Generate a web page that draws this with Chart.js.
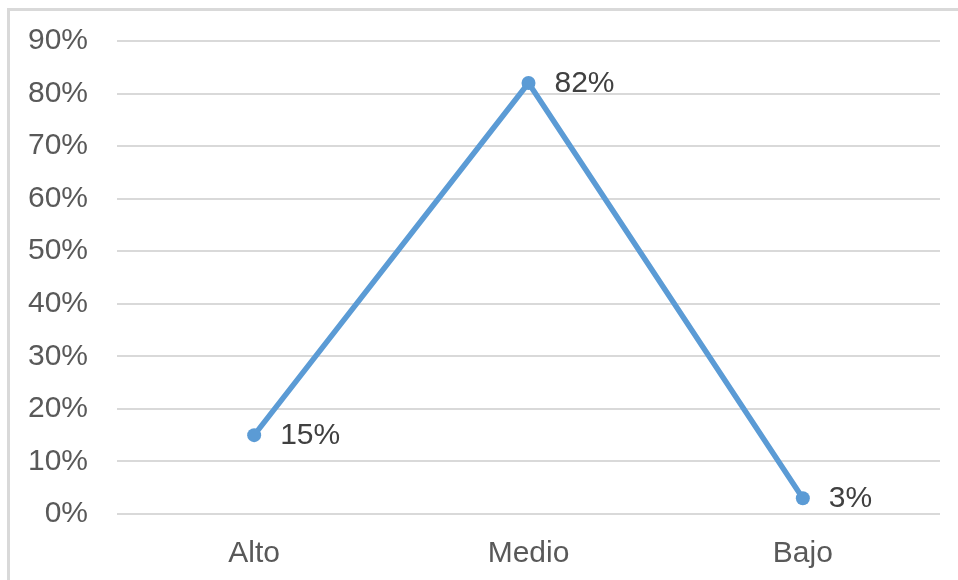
<!DOCTYPE html>
<html>
<head>
<meta charset="utf-8">
<script src="https://cdn.jsdelivr.net/npm/chart.js@4/dist/chart.umd.min.js"></script>
<style>
    html, body { margin: 0; padding: 0; background: #fff; overflow: hidden; }
    #frame {
        position: absolute; left: 7px; top: 8px;
        width: 1200px; height: 900px;
        border-left: 3px solid #d9d9d9; border-top: 3px solid #d9d9d9;
    }
    #chart { position: absolute; left: 0; top: 0; }
</style>
</head>
<body>
<div id="frame"></div>
<canvas id="chart" width="958" height="580"></canvas>
<script>
'use strict';

const categories = ['Alto', 'Medio', 'Bajo'];
const values     = [15, 82, 3];
const yTicks     = [0, 10, 20, 30, 40, 50, 60, 70, 80, 90];

const FONT = '"Liberation Sans", Arial, sans-serif';

// writes the value beside each point
const valueLabels = {
    id: 'valueLabels',
    afterDatasetsDraw(chart) {
        const ctx  = chart.ctx;
        const meta = chart.getDatasetMeta(0);
        ctx.save();
        ctx.font = '30px ' + FONT;
        ctx.fillStyle = '#404040';
        ctx.textAlign = 'left';
        ctx.textBaseline = 'middle';
        meta.data.forEach((pt, i) => {
            ctx.fillText(values[i] + '%', pt.x + 26, pt.y + 1);
        });
        ctx.restore();
    }
};

new Chart(document.getElementById('chart'), {
    type: 'line',
    data: {
        labels: categories,
        datasets: [{
            data: values,
            borderColor: '#5b9bd5',
            backgroundColor: '#5b9bd5',
            borderWidth: 5.5,
            pointRadius: 7,
            pointBorderWidth: 0,
            pointBackgroundColor: '#5b9bd5',
            tension: 0,
            fill: false
        }]
    },
    options: {
        responsive: false,
        animation: false,
        layout: { padding: { left: 0, right: 18, top: 25, bottom: 0 } },
        plugins: {
            legend: { display: false },
            tooltip: { enabled: false }
        },
        scales: {
            x: {
                offset: true,
                grid: { display: false },
                border: { display: false },
                ticks: {
                    color: '#595959',
                    padding: 14,
                    font: { family: FONT, size: 30 }
                },
                afterFit(scale) { scale.height = 66; }
            },
            y: {
                min: 0,
                max: 90,
                afterBuildTicks(scale) { scale.ticks = yTicks.map(v => ({ value: v })); },
                grid: { color: '#d9d9d9', lineWidth: 2, drawTicks: false },
                border: { display: false },
                ticks: {
                    color: '#595959',
                    padding: 29,
                    font: { family: FONT, size: 30, lineHeight: 0.8 },
                    callback: v => v + '%'
                },
                afterFit(scale) { scale.width = 117; }
            }
        }
    },
    plugins: [valueLabels]
});
</script>
</body>
</html>
